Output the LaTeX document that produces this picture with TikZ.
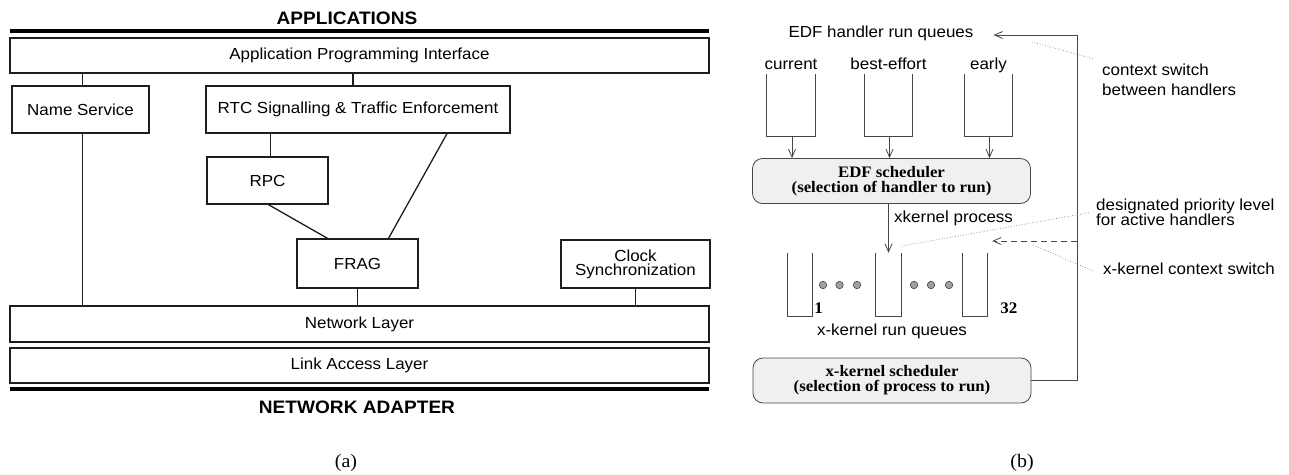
\documentclass[tikz,border=0pt]{standalone}
\usepackage{fontspec}
\setmainfont{Liberation Serif}[FakeStretch=1.05]
\setsansfont{Liberation Sans}[FakeStretch=1.06]
\usetikzlibrary{arrows.meta, positioning, calc}
\definecolor{edge}{RGB}{30, 30, 30}
\definecolor{soft}{RGB}{70, 70, 70}
\definecolor{panel}{RGB}{240, 240, 240}
\definecolor{dotgray}{RGB}{160, 160, 160}
\tikzset{
    layer/.style={
        rectangle, draw=edge, line width=1.3pt,
        inner sep=0pt, font=\sffamily\fontsize{16}{17}\selectfont,
        align=center
    },
    sched/.style={
        rectangle, rounded corners=10pt, draw=soft, fill=panel,
        line width=0.8pt, minimum width=278pt, minimum height=45pt,
        font=\rmfamily\bfseries\fontsize{16}{15}\selectfont, align=center
    },
    queue/.style={rectangle, inner sep=0pt},
    lbl/.style={font=\sffamily\fontsize{16}{17}\selectfont, inner sep=1pt,
        text height=1.5ex, text depth=.25ex},
    anno/.style={font=\sffamily\fontsize{16}{#1}\selectfont, inner sep=0pt, align=left},
    anno/.default=20,
    heading/.style={font=\sffamily\bfseries\fontsize{18}{19}\selectfont},
    num/.style={font=\rmfamily\bfseries\fontsize{16.2}{17}\selectfont, inner sep=1pt},
    caption/.style={font=\rmfamily\fontsize{19}{20}\selectfont},
    link/.style={draw=edge, line width=1.3pt},
    rule/.style={draw=black, line width=3.5pt},
    arrow/.style={-{Straight Barb[length=8pt, width=7pt]}, draw=soft, line width=0.8pt},
    dasharrow/.style={arrow, dash pattern=on 6pt off 4pt},
    dotline/.style={draw=gray, dotted, line width=0.7pt},
    pebble/.style={circle, draw=soft, fill=dotgray, line width=0.6pt, minimum size=7.5pt, inner sep=0pt}
}
\begin{document}
\begin{tikzpicture}[x=1pt, y=-1pt]
    \useasboundingbox (0,0) rectangle (1289,474);

    % (a) Protocol stack
    \node[heading] (apps) at (347,18) {APPLICATIONS};
    \coordinate (rtl) at (10,31);
    \coordinate (rtr) at (709,31);
    \draw[rule] (rtl) -- (rtr);

    \node[layer, minimum width=699pt, minimum height=35pt] (api) at (359.5,55.5) {Application Programming Interface};
    \node[layer, minimum width=137pt, minimum height=47pt] (names) at (80.5,109.5) {Name Service};
    \node[layer, minimum width=304pt, minimum height=47pt] (rtc) at (358,109.5) {RTC Signalling \& Traffic Enforcement};
    \node[layer, minimum width=121pt, minimum height=47pt] (rpc) at (267.5,180.5) {RPC};
    \node[layer, minimum width=121pt, minimum height=49pt] (frag) at (357.5,263.5) {FRAG};
    \node[layer, minimum width=149pt, minimum height=48pt] (clock) at (635.5,264) {Clock\\[-3pt]Synchronization};
    \node[layer, minimum width=699pt, minimum height=36pt] (net) at (359.5,324) {Network Layer};
    \node[layer, minimum width=699pt, minimum height=35pt] (lal) at (359.5,365.5) {Link Access Layer};

    \coordinate (rbl) at (10,389);
    \coordinate (rbr) at (709,389);
    \draw[rule] (rbl) -- (rbr);
    \node[heading] (nadapt) at (357,407) {NETWORK ADAPTER};

    % Connections
    \draw[link] ([xshift=2pt]names.north) -- ([xshift=2pt]names.north |- api.south);
    \draw[link] ([xshift=-5pt]rtc.north) -- ([xshift=-5pt]rtc.north |- api.south);
    \draw[link] ([xshift=2pt]names.south) -- ([xshift=2pt]names.south |- net.north);
    \draw[link] ([xshift=3pt]rpc.north) -- ([xshift=3pt]rpc.north |- rtc.south);
    \draw[link] ([xshift=89pt]rtc.south) -- ([xshift=31pt]frag.north);
    \draw[link] ([xshift=1pt]rpc.south) -- ([xshift=-30pt]frag.north);
    \draw[link] (frag.south) -- (frag.south |- net.north);
    \draw[link] (clock.south) -- (clock.south |- net.north);

    \node[caption] (capa) at (346,463) {(a)};

    % (b) Two-level scheduling
    \node[lbl] (edfq) at (881,35) {EDF handler run queues};

    % Handler run queues
    \foreach \n/\x/\t in {qcur/791/current, qbe/888.5/best-effort, qear/988.5/early} {
        \node[queue, minimum width=48pt, minimum height=62pt] (\n) at (\x,105) {};
        \draw[soft, line width=0.8pt] (\n.north west) |- (\n.south east) -- (\n.north east);
        \node[lbl, above=2pt of \n] (\n-lbl) {\t};
    }

    \node[sched] (edf) at (891.5,181) {EDF scheduler\\(selection of handler to run)};
    \foreach \n in {qcur, qbe, qear}
        \draw[arrow] ([xshift=1pt]\n.south) -- ([xshift=1pt]\n.south |- edf.north);

    % x-kernel run queues
    \foreach \n/\x/\w in {xq1/800/24, xqm/888.5/25, xq32/975/24} {
        \node[queue, minimum width=\w pt, minimum height=63pt] (\n) at (\x,284.5) {};
        \draw[soft, line width=0.8pt] (\n.north west) |- (\n.south east) -- (\n.north east);
    }
    \foreach \x [count=\i] in {823, 839.5, 857, 914, 931, 949}
        \node[pebble] (dot\i) at (\x,285) {};
    \node[num, anchor=south west] (n1) at ([xshift=1pt, yshift=1.5pt]xq1.south east) {1};
    \node[num, anchor=south west] (n32) at ([xshift=12pt, yshift=1.5pt]xq32.south east) {32};
    \node[lbl] (xkq) at (892,333) {x-kernel run queues};

    \draw[arrow] (xqm.north |- edf.south) -- (xqm.north);
    \node[lbl, anchor=west] (xproc) at (893,220) {xkernel process};

    \node[sched] (xks) at (892,380.5) {x-kernel scheduler\\(selection of process to run)};

    % Context switches
    \coordinate (loop) at (1077,35);
    \coordinate (kcs) at (1077,241);
    \draw[arrow] (xks.east) -| (loop) -- ([xshift=19pt]edfq.east);
    \draw[dasharrow] (kcs) -- ([xshift=5pt]xq32.north east |- kcs);

    % Annotations
    \node[anno, anchor=west] (ctx) at (1102,80) {context switch\\between handlers};
    \node[anno=15, anchor=west] (prio) at (1096,212.5) {designated priority level\\for active handlers};
    \node[anno, anchor=west] (xctx) at (1103,269) {x-kernel context switch};

    \coordinate (ctxa) at (1032,42);
    \coordinate (prioa) at (902,246);
    \coordinate (xctxa) at (1033,245);
    \draw[dotline] (ctxa) -- ([xshift=-8pt, yshift=5pt]ctx.north west);
    \draw[dotline] (prioa) -- ([xshift=-6pt]prio.west);
    \draw[dotline] (xctxa) -- ([xshift=-10pt, yshift=-2pt]xctx.west);

    \node[caption] (capb) at (1022,463) {(b)};

\end{tikzpicture}
\end{document}
